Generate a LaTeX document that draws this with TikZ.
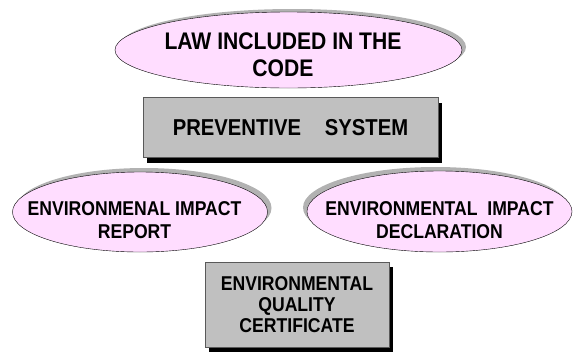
\documentclass[tikz,border=0pt]{standalone}
\usepackage{fontspec}
\setmainfont[FakeStretch=0.88]{Liberation Sans}
\usetikzlibrary{shapes.geometric}
\usetikzlibrary{shadows}

\definecolor{ovalpink}{RGB}{255,221,255}
\definecolor{boxgray}{RGB}{192,192,192}
\definecolor{shadegray}{RGB}{178,178,178}

% text of an oval: takes no room, shifted by #1 (twice the x offset) and #2
\newcommand{\ovaltext}[3]{\makebox[0pt]{\hspace*{#1}\raisebox{#2}[0pt][0pt]{%
  \begin{tabular}{@{}c@{}}#3\end{tabular}}}}

\begin{document}
\begin{tikzpicture}[x=1pt,y=-1pt,
  every node/.style={inner sep=0pt,align=center,font=\bfseries},
  oval/.style={ellipse,draw=black,thin,fill=ovalpink},
  box/.style={rectangle,draw=black!65,thin,fill=boxgray,
    drop shadow={fill=black,opacity=1,shadow xshift=4pt,shadow yshift=-5pt}}]
  \useasboundingbox (0,0) rectangle (573,354);
  \node[oval,minimum width=347pt,minimum height=76pt,
    drop shadow={fill=shadegray,opacity=1,shadow xshift=4pt,shadow yshift=3pt},
    font=\bfseries\fontsize{24}{27}\selectfont](law) at (288.5,50)
    {\ovaltext{-11pt}{-14pt}{LAW INCLUDED IN THE\\CODE}};
  \node[box,minimum width=295pt,minimum height=60pt,
    font=\bfseries\fontsize{23}{26}\selectfont](prevent) at (290.5,127.5) {PREVENTIVE\hspace{24pt}SYSTEM};
  \node[oval,minimum width=255pt,minimum height=80pt,
    drop shadow={fill=shadegray,opacity=1,shadow xshift=4pt,shadow yshift=4pt},
    font=\bfseries\fontsize{20}{23}\selectfont](report) at (140,212)
    {\ovaltext{-11pt}{-16pt}{ENVIRONMENAL IMPACT\\REPORT}};
  \node[oval,minimum width=265pt,minimum height=81pt,
    drop shadow={fill=shadegray,opacity=1,shadow xshift=-4pt,shadow yshift=4pt},
    font=\bfseries\fontsize{20}{23}\selectfont](declar) at (439.5,211.5)
    {\ovaltext{0pt}{-16pt}{ENVIRONMENTAL\ \ IMPACT\\DECLARATION}};
  \node[box,minimum width=184pt,minimum height=85pt,
    font=\bfseries\fontsize{20}{21}\selectfont](certif) at (297,304.5) {ENVIRONMENTAL\\QUALITY\\CERTIFICATE};
\end{tikzpicture}
\end{document}
